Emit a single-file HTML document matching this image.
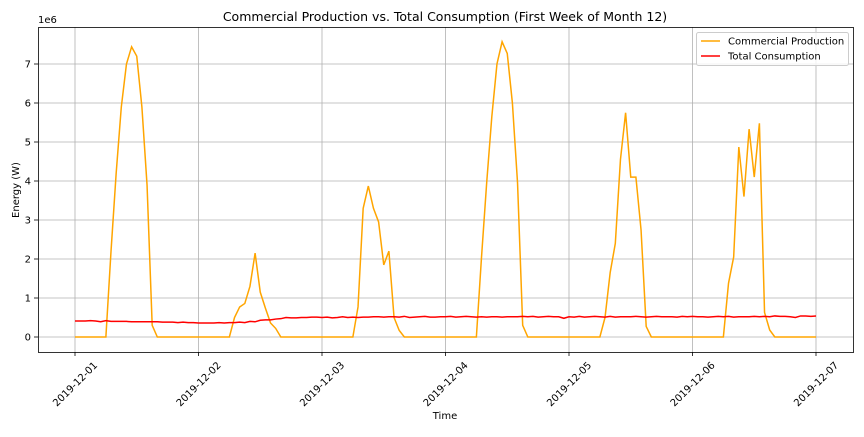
<!DOCTYPE html>
<html><head><meta charset="utf-8"><style>
body{margin:0;background:#fff;font-family:"Liberation Sans","DejaVu Sans",sans-serif}
svg text{font-family:"DejaVu Sans","Liberation Sans",sans-serif}
</style></head><body>
<svg id="chart" width="864" height="432" xmlns="http://www.w3.org/2000/svg">
<rect width="864" height="432" fill="#fff"/>
<text x="445" y="21" font-size="12.5" text-anchor="middle">Commercial Production vs. Total Consumption (First Week of Month 12)</text>
<text x="38" y="23" font-size="10">1e6</text>
<text transform="translate(19,190) rotate(-90)" font-size="10" text-anchor="middle">Energy (W)</text>
<text x="445" y="419" font-size="10" text-anchor="middle">Time</text>
<g id="grid"></g><g id="ticks"></g><g id="series"></g>
<rect x="38.5" y="27.5" width="815" height="325" fill="none" stroke="#000" stroke-width="0.8"/>
<g>
<rect x="696.5" y="32.5" width="152" height="33" rx="2" fill="#fff" fill-opacity="0.8" stroke="#ccc"/>
<line x1="701" y1="41" x2="720" y2="41" stroke="#ffa500" stroke-width="1.5"/>
<text x="728" y="44.5" font-size="10">Commercial Production</text>
<line x1="701" y1="56" x2="720" y2="56" stroke="#ff0000" stroke-width="1.5"/>
<text x="728" y="59.5" font-size="10">Total Consumption</text>
</g>
</svg>
<script>
const xTickLabels=["2019-12-01","2019-12-02","2019-12-03","2019-12-04","2019-12-05","2019-12-06","2019-12-07"];
const yTicks=[0,1,2,3,4,5,6,7];
const production=[
0,0,0,0,0,0,0,2.2,4.2,5.9,7.0,7.44,7.2,5.9,3.9,0.3,0,0,0,0,0,0,0,0,
0,0,0,0,0,0,0,0.5,0.77,0.86,1.3,2.15,1.15,0.74,0.36,0.22,0,0,0,0,0,0,0,0,
0,0,0,0,0,0,0,0.77,3.3,3.87,3.3,2.95,1.85,2.2,0.5,0.17,0,0,0,0,0,0,0,0,
0,0,0,0,0,0,0,2.05,3.95,5.65,7.0,7.57,7.27,6.0,3.95,0.3,0,0,0,0,0,0,0,0,
0,0,0,0,0,0,0,0.5,1.65,2.4,4.55,5.75,4.1,4.1,2.75,0.27,0,0,0,0,0,0,0,0,
0,0,0,0,0,0,0,1.38,2.05,4.87,3.6,5.33,4.1,5.48,0.63,0.18,0,0,0,0,0,0,0,0,0];
const consumption=[
0.41,0.41,0.41,0.42,0.41,0.39,0.42,0.4,0.4,0.4,0.4,0.39,0.39,0.39,0.39,0.39,0.39,0.38,0.38,0.38,0.37,0.38,0.37,0.37,
0.36,0.36,0.36,0.36,0.37,0.36,0.37,0.37,0.38,0.37,0.4,0.39,0.43,0.44,0.44,0.46,0.47,0.5,0.49,0.49,0.5,0.5,0.51,0.51,
0.5,0.51,0.49,0.5,0.52,0.5,0.51,0.5,0.51,0.51,0.52,0.52,0.51,0.52,0.52,0.51,0.53,0.5,0.51,0.52,0.53,0.51,0.51,0.52,
0.52,0.53,0.51,0.52,0.53,0.52,0.51,0.52,0.51,0.52,0.52,0.51,0.52,0.52,0.52,0.53,0.52,0.53,0.51,0.52,0.53,0.52,0.52,0.48,
0.52,0.51,0.53,0.51,0.52,0.53,0.52,0.51,0.53,0.51,0.52,0.52,0.52,0.53,0.52,0.51,0.52,0.53,0.52,0.52,0.52,0.51,0.53,0.52,
0.53,0.52,0.52,0.51,0.52,0.53,0.52,0.53,0.51,0.52,0.52,0.52,0.53,0.52,0.53,0.52,0.54,0.53,0.53,0.52,0.5,0.54,0.54,0.53,0.54];
const NS="http://www.w3.org/2000/svg";
const x=h=>75+h*(741/144);
const y=v=>337-v*39;
function mk(tag,attrs,parent){const e=document.createElementNS(NS,tag);for(const k in attrs)e.setAttribute(k,attrs[k]);parent.appendChild(e);return e;}
const grid=document.getElementById('grid'),ticks=document.getElementById('ticks'),series=document.getElementById('series');
xTickLabels.forEach((lab,i)=>{
  const px=x(i*24);
  const g=mk('line',{x1:px,y1:27,x2:px,y2:352,stroke:'#b0b0b0','stroke-width':0.8},grid);
  
  
  mk('line',{x1:px,y1:352,x2:px,y2:356,stroke:'#000','stroke-width':0.8},ticks);
  const t=mk('text',{transform:`translate(${px},${384}) rotate(-45)`,'font-size':10,'text-anchor':'middle',dy:'0.35em'},ticks);
  t.textContent=lab;
  
  
});
yTicks.forEach(v=>{
  const py=y(v);
  const g=mk('line',{x1:38,y1:py,x2:853,y2:py,stroke:'#b0b0b0','stroke-width':0.8},grid);
  
  
  mk('line',{x1:34,y1:py,x2:38,y2:py,stroke:'#000','stroke-width':0.8},ticks);
  const t=mk('text',{x:31,y:py+3.5,'font-size':10,'text-anchor':'end'},ticks);
  t.textContent=v;
  
  
});
const p1=mk('polyline',{points:production.map((v,i)=>x(i)+','+y(v)).join(' '),fill:'none',stroke:'#ffa500','stroke-width':1.5},series);


const p2=mk('polyline',{points:consumption.map((v,i)=>x(i)+','+y(v)).join(' '),fill:'none',stroke:'#ff0000','stroke-width':1.5},series);


</script>
</body></html>
